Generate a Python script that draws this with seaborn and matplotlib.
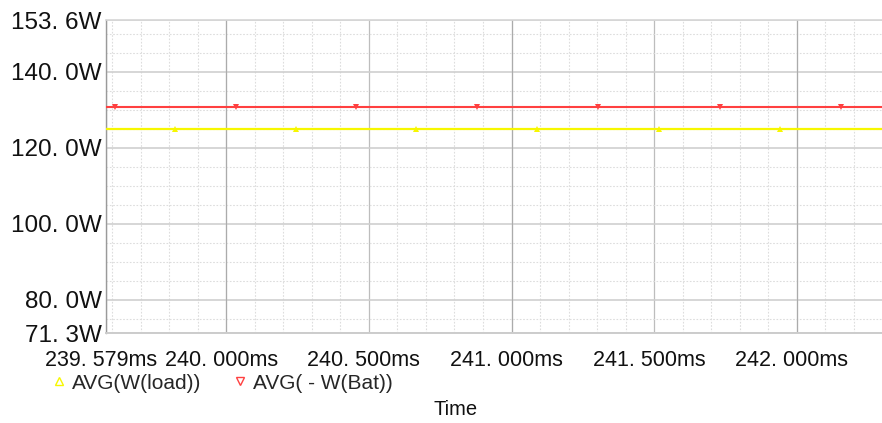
import matplotlib
matplotlib.use("Agg")
import matplotlib.pyplot as plt
import matplotlib.transforms as mtransforms
from matplotlib.lines import Line2D
from matplotlib.ticker import MultipleLocator
import seaborn as sns
import pandas as pd

# ---- data ----
load_time_ms = [239.579, 239.821, 240.244, 240.665, 241.089, 241.516, 241.941, 242.298]
load_avg_w = [124.9, 124.9, 124.9, 124.9, 124.9, 124.9, 124.9, 124.9]
bat_time_ms = [239.579, 239.611, 240.033, 240.455, 240.879, 241.304, 241.729, 242.153, 242.298]
bat_avg_w = [130.8, 130.8, 130.8, 130.8, 130.8, 130.8, 130.8, 130.8, 130.8]

series_labels = ["AVG(W(load))", "AVG( - W(Bat))"]
x_ticks = [239.579, 240.0, 240.5, 241.0, 241.5, 242.0]
x_tick_labels = ["239. 579ms", "240. 000ms", "240. 500ms", "241. 000ms", "241. 500ms", "242. 000ms"]
y_ticks = [71.3, 80.0, 100.0, 120.0, 140.0, 153.6]
y_tick_labels = ["71. 3W", "80. 0W", "100. 0W", "120. 0W", "140. 0W", "153. 6W"]
x_range = [239.579, 242.298]
y_range = [71.3, 153.6]
x_label = "Time"

load_df = pd.DataFrame({"t": load_time_ms, "w": load_avg_w})
bat_df = pd.DataFrame({"t": bat_time_ms, "w": bat_avg_w})

# ---- style ----
sns.set_style("white")
plt.rcParams["font.family"] = ["Liberation Sans", "DejaVu Sans"]

YELLOW = "#f7f700"
RED = "#ff4040"

fig = plt.figure(figsize=(8.82, 4.23), dpi=100)
ax = fig.add_axes([106 / 882, 90 / 423, 776 / 882, 313 / 423])

sns.lineplot(data=load_df, x="t", y="w", ax=ax, color=YELLOW, lw=1.6,
             marker="^", markersize=4.5, markevery=list(range(1, len(load_time_ms) - 1)),
             markeredgewidth=0, sort=False, zorder=3)
sns.lineplot(data=bat_df, x="t", y="w", ax=ax, color=RED, lw=1.5,
             marker="v", markersize=4.5, markevery=list(range(1, len(bat_time_ms) - 1)),
             markeredgewidth=0, sort=False, zorder=4)

ax.set_xlim(x_range)
ax.set_ylim(y_range)

ax.set_xticks(x_ticks)
ax.set_xticklabels(x_tick_labels, fontsize=15.5)
ax.set_yticks(y_ticks)
ax.set_yticklabels(y_tick_labels, fontsize=17.5)
ax.xaxis.set_minor_locator(MultipleLocator(0.1))
ax.yaxis.set_minor_locator(MultipleLocator(5))

ax.grid(which="major", axis="y", color="#cfcfcf", lw=1.2, ls="-")
ax.grid(which="major", axis="x", color="#bdbdbd", lw=0.9, ls="-")
ax.grid(which="minor", axis="both", color="#dddddd", lw=0.8, ls=(0, (1.5, 1.5)))
for t in x_ticks:
    if abs(t - round(t)) < 1e-9:
        ax.axvline(t, color="#ababab", lw=0.8, zorder=1)
ax.set_axisbelow(True)

ax.tick_params(axis="x", which="major", length=3, color="#a8a8a8", pad=9, labelcolor="#111111")
ax.tick_params(axis="y", which="major", length=0, pad=3, labelcolor="#111111")
ax.tick_params(which="minor", length=0)

for lab in ax.get_xticklabels():
    lab.set_transform(lab.get_transform() + mtransforms.ScaledTranslation(-5 / 100, 0, fig.dpi_scale_trans))

ax.spines["right"].set_visible(False)
ax.spines["left"].set_color("#9a9a9a")
ax.spines["bottom"].set_color("#cccccc")
ax.spines["top"].set_color("#d6d6d6")
ax.spines["left"].set_linewidth(1.0)
ax.spines["bottom"].set_linewidth(1.4)
ax.spines["top"].set_linewidth(1.2)

ax.set_xlabel("")
ax.set_ylabel("")

handles = [
    Line2D([], [], ls="none", marker="^", markersize=6, mfc="none", mec=YELLOW, mew=1.0),
    Line2D([], [], ls="none", marker="v", markersize=6, mfc="none", mec=RED, mew=1.0),
]
fig.legend(handles, series_labels, loc="center left", bbox_to_anchor=(50.5 / 882, 1 - 383 / 423),
           ncol=2, frameon=False, fontsize=15, borderpad=0, borderaxespad=0,
           handlelength=0.8, handletextpad=0.22, columnspacing=1.45)

fig.text(456 / 882, 1 - 409 / 423, x_label, ha="center", va="center", fontsize=14.5, color="#111111")

fig.savefig("out.png", dpi=100)
